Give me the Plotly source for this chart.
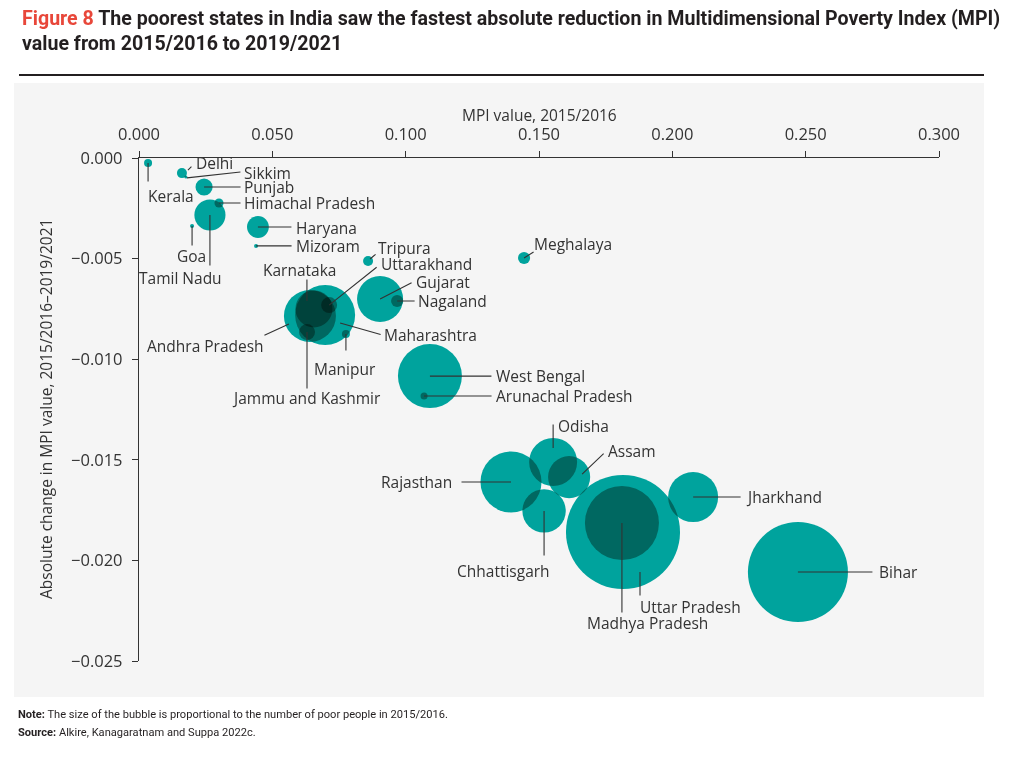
import plotly.graph_objects as go

# ---------------- data ----------------
states = [
    "Kerala", "Delhi", "Sikkim", "Punjab", "Himachal Pradesh", "Tamil Nadu", "Goa",
    "Haryana", "Mizoram", "Tripura", "Meghalaya", "Uttarakhand", "Karnataka",
    "Andhra Pradesh", "Maharashtra", "Jammu and Kashmir", "Manipur", "Gujarat",
    "Nagaland", "West Bengal", "Arunachal Pradesh", "Odisha", "Assam", "Rajasthan",
    "Chhattisgarh", "Uttar Pradesh", "Madhya Pradesh", "Jharkhand", "Bihar",
]
mpi_2015_16 = [
    0.0034, 0.0161, 0.0176, 0.0244, 0.0300, 0.0266, 0.0199,
    0.0446, 0.0439, 0.0859, 0.1444, 0.0713, 0.0656,
    0.0641, 0.0698, 0.0630, 0.0776, 0.0904,
    0.0968, 0.1091, 0.1069, 0.1553, 0.1613, 0.1395,
    0.1519, 0.1815, 0.1811, 0.2078, 0.2471,
]
abs_change = [
    -0.00025, -0.00075, -0.00094, -0.00144, -0.00224, -0.00283, -0.00338,
    -0.00343, -0.00437, -0.00512, -0.00497, -0.00731, -0.00750,
    -0.00785, -0.00780, -0.00865, -0.00875, -0.00701,
    -0.00711, -0.01084, -0.01183, -0.01511, -0.01586, -0.01610,
    -0.01754, -0.01859, -0.01814, -0.01685, -0.02058,
]
# number of poor people 2015/2016 (millions)
poor_millions = [
    0.35, 0.55, 0.05, 1.6, 0.45, 5.3, 0.09,
    2.6, 0.09, 0.55, 0.8, 1.4, 7.5,
    14.8, 19.7, 1.4, 0.35, 11.6,
    0.8, 22.4, 0.27, 12.6, 9.7, 20.4,
    10.3, 71.2, 30.0, 13.7, 54.8,
]
x_ticks = [0.0, 0.05, 0.10, 0.15, 0.20, 0.25, 0.30]
y_ticks = [0.0, -0.005, -0.010, -0.015, -0.020, -0.025]

title_1 = "The poorest states in India saw the fastest absolute reduction in Multidimensional Poverty Index (MPI)"
title_2 = "value from 2015/2016 to 2019/2021"
x_title = "MPI value, 2015/2016"
y_title = "Absolute change in MPI value, 2015/2016\u20132019/2021"
note = "The size of the bubble is proportional to the number of poor people in 2015/2016."
source = "Alkire, Kanagaratnam and Suppa 2022c."

# ---------------- layout / styling ----------------
FIG_W, FIG_H = 1009, 763
ML, MR, MT, MB = 139, 70, 158, 102
PW = FIG_W - ML - MR
PH = FIG_H - MT - MB

def px_x(px):
    return (px - ML) / PW

def px_y(py):
    return (FIG_H - MB - py) / PH

TEAL = "#00A39D"
INK = "#333333"
FONT = "Open Sans"
LBL_SIZE = 15.5

# label placement: (line start offset, line end offset, text offset, xanchor) in px from bubble centre (y down)
label_place = {
    "Kerala": ((0, 0), (0, 20), (-2, 33), "left"),
    "Delhi": ((6, -3), (11, -8), (12, -10), "left"),
    "Sikkim": ((1, 1), (56, -5), (56, -4), "left"),
    "Punjab": ((0, 0), (38, 0), (38, 0), "left"),
    "Himachal Pradesh": ((0, 0), (23, 0), (23, 0), "left"),
    "Tamil Nadu": ((0, 0), (0, 52), (14, 63), "right"),
    "Goa": ((0, 0), (0, 21), (-1, 30), "center"),
    "Haryana": ((0, 0), (35, 0), (36, 1), "left"),
    "Mizoram": ((0, 0), (37, 0), (38, 0), "left"),
    "Tripura": ((2, -2), (9, -8), (8, -13), "left"),
    "Meghalaya": ((0, 0), (11, -7), (8, -14), "left"),
    "Uttarakhand": ((0, 0), (49, -39), (50, -41), "left"),
    "Karnataka": ((-7, -8), (-7, -31), (-14, -39), "center"),
    "Andhra Pradesh": ((-21, 8), (-47, 20), (-44, 30), "right"),
    "Maharashtra": ((15, 8), (57, 20), (57, 20), "left"),
    "Jammu and Kashmir": ((0, 0), (0, 58), (-1, 66), "center"),
    "Manipur": ((0, 0), (0, 18), (-1, 35), "center"),
    "Gujarat": ((0, 0), (33, -17), (34, -17), "left"),
    "Nagaland": ((0, 0), (19, 0), (19, 0), "left"),
    "West Bengal": ((0, 0), (63, 0), (64, 0), "left"),
    "Arunachal Pradesh": ((0, 0), (69, 0), (70, 0), "left"),
    "Odisha": ((0, -14), (0, -39), (3, -36), "left"),
    "Assam": ((13, -3), (36, -25), (37, -26), "left"),
    "Rajasthan": ((0, 0), (-51, 0), (-57, 0), "right"),
    "Chhattisgarh": ((0, 0), (0, 46), (8, 60), "right"),
    "Uttar Pradesh": ((17, 40), (17, 65), (15, 75), "left"),
    "Madhya Pradesh": ((0, 0), (0, 91), (-37, 100), "left"),
    "Jharkhand": ((0, 0), (49, 0), (51, 0), "left"),
    "Bihar": ((0, 0), (76, 0), (79, 0), "left"),
}

fig = go.Figure(
    go.Scatter(
        x=mpi_2015_16,
        y=abs_change,
        mode="markers",
        text=states,
        hoverinfo="text",
        marker=dict(
            size=poor_millions,
            sizemode="area",
            sizeref=0.0219 / 2,
            color=TEAL,
            opacity=1,
            line=dict(width=0),
        ),
        showlegend=False,
    )
)

annotations = []
for name, xv, yv in zip(states, mpi_2015_16, abs_change):
    (sx, sy), (ex, ey), (tx, ty), xa = label_place[name]
    annotations.append(dict(
        x=xv, y=yv, xref="x", yref="y", text="", showarrow=True,
        arrowhead=0, arrowwidth=1.1, arrowcolor=INK, standoff=0, startstandoff=0,
        xshift=sx, yshift=-sy, ax=ex - sx, ay=ey - sy, axref="pixel", ayref="pixel",
    ))
    annotations.append(dict(
        x=xv, y=yv, xref="x", yref="y", text=name, showarrow=False,
        xanchor=xa, yanchor="middle", xshift=tx, yshift=-ty,
        font=dict(family=FONT, size=LBL_SIZE, color=INK),
    ))

# titles, axis titles, notes
annotations += [
    dict(x=px_x(20), y=px_y(18), xref="paper", yref="paper", xanchor="left", yanchor="middle",
         showarrow=False, align="left",
         text="<b><span style='color:#E8473A'>Figure 8</span> " + title_1 + "</b>",
         font=dict(family="Roboto", size=19.6, color="#231F20")),
    dict(x=px_x(20), y=px_y(43), xref="paper", yref="paper", xanchor="left", yanchor="middle",
         showarrow=False, align="left", text="<b>" + title_2 + "</b>",
         font=dict(family="Roboto", size=19.6, color="#231F20")),
    dict(x=px_x(539), y=px_y(115), xref="paper", yref="paper", xanchor="center", yanchor="middle",
         showarrow=False, text=x_title, font=dict(family=FONT, size=15.5, color=INK)),
    dict(x=px_x(46), y=px_y(409), xref="paper", yref="paper", xanchor="center", yanchor="middle",
         showarrow=False, text=y_title, textangle=-90, font=dict(family=FONT, size=15.5, color=INK)),
    dict(x=px_x(16), y=px_y(714), xref="paper", yref="paper", xanchor="left", yanchor="middle",
         showarrow=False, text="<b>Note:</b> " + note, font=dict(family="Roboto", size=11.1, color="#231F20")),
    dict(x=px_x(16), y=px_y(732), xref="paper", yref="paper", xanchor="left", yanchor="middle",
         showarrow=False, text="<b>Source:</b> " + source, font=dict(family="Roboto", size=11.1, color="#231F20")),
]

shapes = [
    dict(type="rect", xref="paper", yref="paper", x0=px_x(14), x1=px_x(984), y0=px_y(697), y1=px_y(83),
         fillcolor="#F5F5F5", line=dict(width=0), layer="below"),
    dict(type="line", xref="paper", yref="paper", x0=px_x(19), x1=px_x(984), y0=px_y(75), y1=px_y(75),
         line=dict(color="#231F20", width=2)),
]

axis_common = dict(
    showline=True, linecolor=INK, linewidth=1.3, ticks="outside", ticklen=6, tickwidth=1.3,
    tickcolor=INK, showgrid=False, zeroline=False, tickformat=".3f",
    tickfont=dict(family=FONT, size=16.5, color=INK), fixedrange=True,
)

fig.update_layout(
    width=FIG_W, height=FIG_H,
    margin=dict(l=ML, r=MR, t=MT, b=MB, pad=0),
    paper_bgcolor="white", plot_bgcolor="rgba(0,0,0,0)",
    xaxis=dict(side="top", range=[0, 0.3], tickvals=x_ticks, ticklabelstandoff=4, **axis_common),
    yaxis=dict(range=[-0.025, 0], tickvals=y_ticks, ticklabelstandoff=6, **axis_common),
    annotations=annotations, shapes=shapes, showlegend=False,
)

page_js = (
    "document.body.style.margin='0';"
    "var s=document.createElement('style');"
    "s.innerHTML='body{margin:0;} .scatterlayer .trace .points path{mix-blend-mode:multiply;}';"
    "document.head.appendChild(s);"
)
fig.write_html("out.html", post_script=page_js, config={"displayModeBar": False})
